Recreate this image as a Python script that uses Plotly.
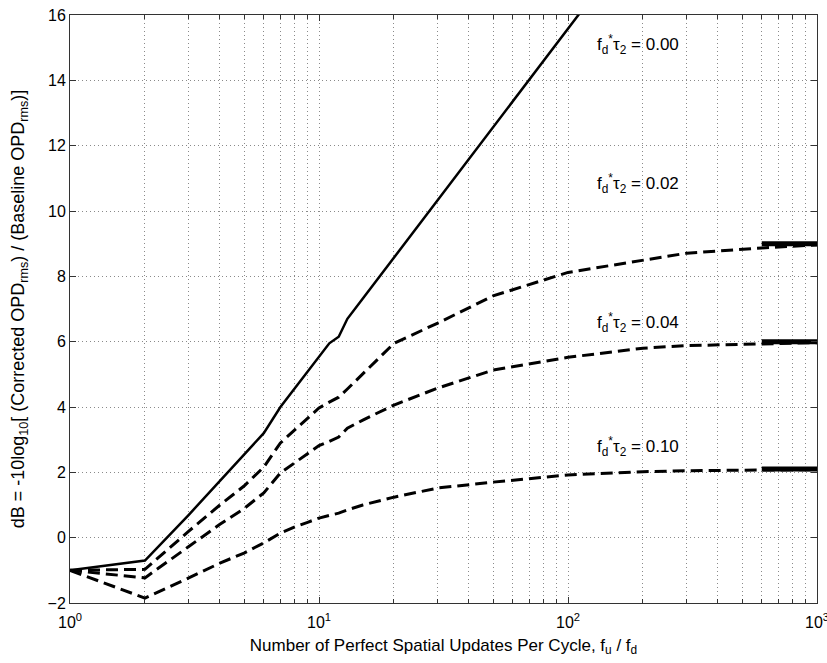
import math
import plotly.graph_objects as go

# Number of perfect spatial updates per cycle (f_u / f_d)
x_ideal = [1, 2, 3, 4, 5, 6, 7, 8, 9, 10, 11, 12, 13, 15, 20, 30, 50, 100, 200]
x_delay = [1, 2, 3, 4, 5, 6, 7, 8, 9, 10, 11, 12, 13, 15, 20, 30, 50, 100, 200, 300, 600, 1000]

# dB improvement, f_d*tau_2 = 0.00 (no delay)
db_000 = [-1.0, -0.7, 0.7, 1.75, 2.55, 3.2, 4.0, 4.58, 5.09, 5.55, 5.95, 6.15, 6.7,
          7.32, 8.57, 10.33, 12.55, 15.6, 18.6]
# dB improvement with finite delay
db_002 = [-1.0, -0.97, 0.2, 1.0, 1.58, 2.16, 2.9, 3.3, 3.65, 3.97, 4.15, 4.3, 4.55,
          5.02, 5.95, 6.57, 7.4, 8.12, 8.5, 8.71, 8.87, 8.96]
db_004 = [-1.0, -1.23, -0.27, 0.41, 0.89, 1.37, 1.98, 2.29, 2.56, 2.82, 2.95, 3.08, 3.35,
          3.6, 4.06, 4.58, 5.13, 5.52, 5.8, 5.88, 5.93, 5.97]
db_010 = [-1.0, -1.85, -1.23, -0.78, -0.47, -0.16, 0.14, 0.33, 0.47, 0.6, 0.68, 0.75, 0.85,
          1.0, 1.24, 1.52, 1.7, 1.92, 2.02, 2.05, 2.07, 2.08]

# Asymptotic (infinite update rate) limits for each delay
asym_x = [600, 1000]
asym_002 = 9.0
asym_004 = 6.0
asym_010 = 2.1

delay_labels = ["0.00", "0.02", "0.04", "0.10"]
label_x = [128, 128, 128, 128]
label_y = [15.1, 10.85, 6.6, 2.8]

x_major = [1, 10, 100, 1000]
x_major_text = ["10<sup>0</sup>", "10<sup>1</sup>", "10<sup>2</sup>", "10<sup>3</sup>"]
x_minor = [m * d for d in (1, 10, 100) for m in range(2, 10)]
y_ticks = list(range(-2, 17, 2))

fig = go.Figure()

fig.add_trace(go.Scatter(x=x_ideal, y=db_000, mode="lines",
                         line=dict(color="black", width=2.5)))
dash = "12px,6px"
for ys in (db_002, db_004, db_010):
    fig.add_trace(go.Scatter(x=x_delay, y=ys, mode="lines",
                             line=dict(color="black", width=3, dash=dash)))
for a in (asym_002, asym_004, asym_010):
    fig.add_trace(go.Scatter(x=asym_x, y=[a, a], mode="lines",
                             line=dict(color="black", width=5)))

# Curve labels (annotation x on a log axis is given in log10 units)
for lx, ly, lab in zip(label_x, label_y, delay_labels):
    fig.add_annotation(x=math.log10(lx), y=ly, xref="x", yref="y",
                       xanchor="left", yanchor="middle", showarrow=False,
                       text=f"f<sub>d</sub><sup>*</sup>τ<sub>2</sub> = {lab}",
                       font=dict(size=17, color="black"))

axis_font = dict(family="Liberation Sans, Arial, sans-serif", size=16, color="black")
grid_dash = "1px,3px"
grid_color = "#8a8a8a"

fig.update_layout(
    width=827, height=663,
    margin=dict(l=70, r=10, t=15, b=60, autoexpand=False),
    paper_bgcolor="white", plot_bgcolor="white",
    showlegend=False,
    font=axis_font,
    xaxis=dict(
        type="log", range=[0, 3], automargin=False,
        tickmode="array", tickvals=x_major, ticktext=x_major_text,
        ticks="inside", ticklen=6, tickcolor="#333",
        ticklabeloverflow="allow", ticklabelstandoff=5,
        showline=True, linecolor="#333", linewidth=1, mirror="ticks",
        showgrid=True, gridcolor=grid_color, griddash=grid_dash, gridwidth=1,
        minor=dict(tickmode="array", tickvals=x_minor, ticks="inside", ticklen=4,
                   tickcolor="#333", showgrid=True, gridcolor=grid_color,
                   griddash=grid_dash, gridwidth=1),
        zeroline=False,
        title=dict(text="Number of Perfect Spatial Updates Per Cycle, f<sub>u</sub> / f<sub>d</sub>",
                   font=dict(size=17), standoff=8),
    ),
    yaxis=dict(
        range=[-2, 16], automargin=False,
        tickmode="array", tickvals=y_ticks,
        ticks="inside", ticklen=6, tickcolor="#333",
        showline=True, linecolor="#333", linewidth=1, mirror="ticks",
        showgrid=True, gridcolor=grid_color, griddash=grid_dash, gridwidth=1,
        zeroline=False,
        title=dict(text="dB = -10log<sub>10</sub>[ (Corrected OPD<sub>rms</sub>) / (Baseline OPD<sub>rms</sub>)]",
                   font=dict(size=18), standoff=18),
    ),
)

fig.write_html("out.html")
